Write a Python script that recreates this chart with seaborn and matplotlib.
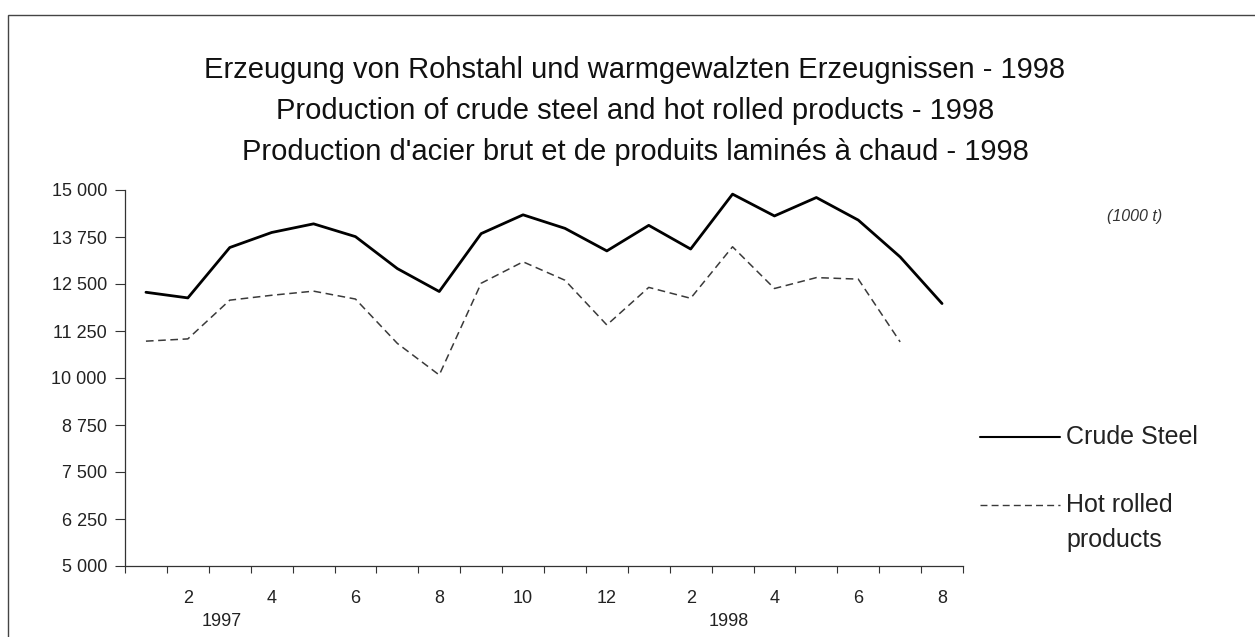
import matplotlib
matplotlib.use("Agg")
import matplotlib.pyplot as plt
from matplotlib.lines import Line2D
from matplotlib.patches import Rectangle
import pandas as pd
import seaborn as sns

months = [1, 2, 3, 4, 5, 6, 7, 8, 9, 10, 11, 12,
          1, 2, 3, 4, 5, 6, 7, 8]
crude_steel = [12280, 12130, 13470, 13870, 14100, 13760, 12910, 12300,
               13840, 14340, 13980, 13380, 14060, 13430, 14890, 14310,
               14800, 14200, 13220, 11980]
hot_rolled = [10980, 11040, 12070, 12200, 12310, 12100, 10920, 10080,
              12520, 13090, 12600, 11410, 12410, 12120, 13490, 12380,
              12670, 12630, 10960]
years = ["1997", "1998"]
yticks = [5000, 6250, 7500, 8750, 10000, 11250, 12500, 13750, 15000]

pos = list(range(len(months)))
df_cs = pd.DataFrame({"pos": pos, "value": crude_steel})
df_hr = pd.DataFrame({"pos": pos[:len(hot_rolled)], "value": hot_rolled})

sns.set_style("white")
plt.rcParams["font.family"] = ["Liberation Sans", "DejaVu Sans"]

fig = plt.figure(figsize=(12.55, 6.37), dpi=100)
ax = fig.add_axes([125 / 1255, 1 - 566 / 637, 838 / 1255, 376 / 637])

sns.lineplot(data=df_cs, x="pos", y="value", color="black", linewidth=2.0, ax=ax)
sns.lineplot(data=df_hr, x="pos", y="value", color="#3a3a3a", linewidth=1.1,
             linestyle=(0, (5, 3)), ax=ax)

ax.set_xlim(-0.5, len(months) - 0.5)
ax.set_ylim(5000, 15000)
ax.set_yticks(yticks)
ax.set_yticklabels([f"{v:,}".replace(",", " ") for v in yticks], fontsize=13,
                   color="#222222")
ax.set_xticks([p - 0.5 for p in pos] + [len(months) - 0.5])
ax.set_xticklabels([])
ax.set_xticks(pos, minor=True)
ax.set_xticklabels([str(m) if m % 2 == 0 else "" for m in months], minor=True,
                   fontsize=13, color="#222222")
ax.tick_params(axis="x", which="major", bottom=True, direction="out", length=5,
               width=0.8, color="#333333")
ax.tick_params(axis="x", which="minor", bottom=True, length=0, pad=17)
ax.tick_params(axis="y", left=True, direction="out", length=7, width=0.8,
               color="#333333", pad=6)
ax.set_xlabel("")
ax.set_ylabel("")
for s in ["top", "right"]:
    ax.spines[s].set_visible(False)
for s in ["left", "bottom"]:
    ax.spines[s].set_color("#333333")
    ax.spines[s].set_linewidth(0.9)

# year labels under the first quarter of each year
for xp, y in zip([1.8, 13.9], years):
    ax.text(xp, -0.148, y, transform=ax.get_xaxis_transform(),
            ha="center", va="center", fontsize=13, color="#222222")

titles = ["Erzeugung von Rohstahl und warmgewalzten Erzeugnissen - 1998",
          "Production of crude steel and hot rolled products - 1998",
          "Production d'acier brut et de produits laminés à chaud - 1998"]
for i, t in enumerate(titles):
    fig.text(0.506, 1 - (70 + 41 * i) / 637, t, ha="center", va="center",
             fontsize=21, color="#111111")

fig.text(1135 / 1255, 1 - 216 / 637, "(1000 t)", ha="center", va="center",
         fontsize=11.5, style="italic", color="#333333")

# legend
fig.add_artist(Line2D([980 / 1255, 1060 / 1255], [1 - 437 / 637] * 2,
                      color="black", linewidth=1.5))
fig.text(1066 / 1255, 1 - 437 / 637, "Crude Steel", ha="left", va="center",
         fontsize=18, color="#222222")
fig.add_artist(Line2D([980 / 1255, 1060 / 1255], [1 - 505 / 637] * 2,
                      color="#3a3a3a", linewidth=1.0, linestyle=(0, (5, 3))))
fig.text(1066 / 1255, 1 - 505 / 637, "Hot rolled", ha="left", va="center",
         fontsize=18, color="#222222")
fig.text(1066 / 1255, 1 - 540 / 637, "products", ha="left", va="center",
         fontsize=18, color="#222222")

# outer frame
fig.add_artist(Rectangle((8 / 1255, -0.05), 1.2, 1 - 15 / 637 + 0.05,
                         transform=fig.transFigure, fill=False,
                         edgecolor="#444444", linewidth=1.0))

fig.savefig("out.png", dpi=100, facecolor="white")
